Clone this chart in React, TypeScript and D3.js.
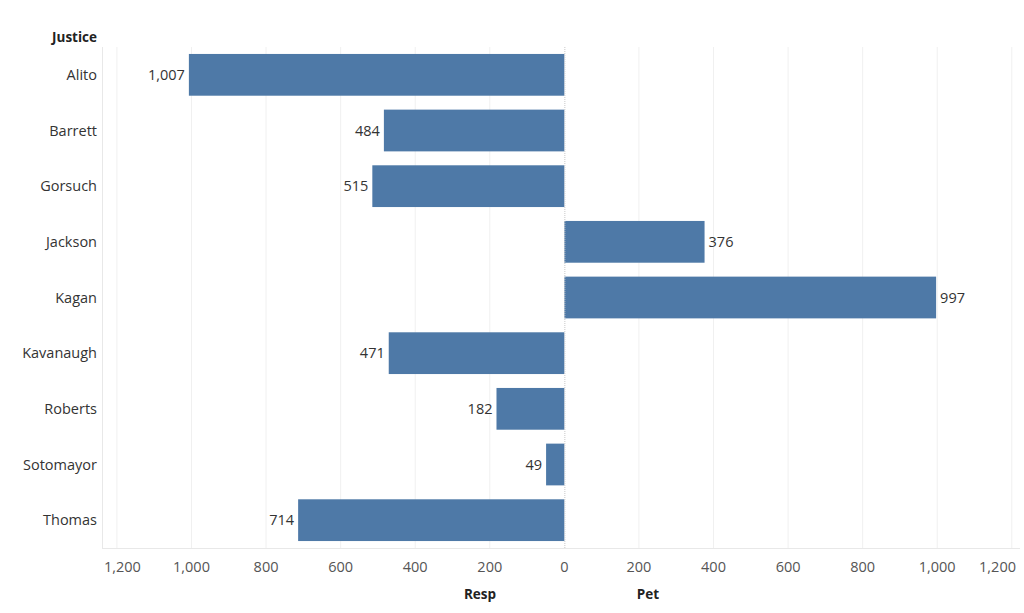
import React, { useEffect, useRef } from 'react';
import * as d3 from 'd3';

const justices = ['Alito', 'Barrett', 'Gorsuch', 'Jackson', 'Kagan', 'Kavanaugh', 'Roberts', 'Sotomayor', 'Thomas'];
const counts = [1007, 484, 515, 376, 997, 471, 182, 49, 714];
const sides = ['Resp', 'Resp', 'Resp', 'Pet', 'Pet', 'Resp', 'Resp', 'Resp', 'Resp'];
const tickValues = [-1200, -1000, -800, -600, -400, -200, 0, 200, 400, 600, 800, 1000, 1200];

const W = 1024;
const H = 613;
const FONT = '"Open Sans", "Noto Sans", sans-serif';

export default function App() {
  const svgRef = useRef<SVGSVGElement>(null);

  useEffect(() => {
    document.body.style.margin = '0';
    const svg = d3.select(svgRef.current);
    svg.selectAll('*').remove();

    const left = 102, right = 1020, top = 47, bottom = 548;

    const x = d3.scaleLinear().domain([-1240, 1222]).range([left, right]);
    const y = d3.scaleBand<string>().domain(justices).range([top, bottom]).paddingInner(0.25).paddingOuter(0.125);

    const signed = counts.map((c, i) => (sides[i] === 'Resp' ? -c : c));

    // Grid
    svg.append('g')
      .selectAll('line')
      .data(tickValues.filter(t => t !== 0))
      .enter().append('line')
      .attr('x1', d => x(d)).attr('x2', d => x(d))
      .attr('y1', top).attr('y2', bottom)
      .attr('stroke', '#f0f0f0').attr('stroke-width', 1);

    // Plot frame
    svg.append('line').attr('x1', left + 0.5).attr('x2', left + 0.5).attr('y1', top).attr('y2', bottom)
      .attr('stroke', '#e8e8e8');
    svg.append('line').attr('x1', left).attr('x2', right).attr('y1', bottom + 0.5).attr('y2', bottom + 0.5)
      .attr('stroke', '#e8e8e8');

    // Bars
    svg.append('g')
      .selectAll('rect')
      .data(justices)
      .enter().append('rect')
      .attr('x', (d, i) => x(Math.min(0, signed[i])))
      .attr('width', (d, i) => Math.abs(x(signed[i]) - x(0)))
      .attr('y', d => y(d)!)
      .attr('height', y.bandwidth())
      .attr('fill', '#4e79a7');

    // Zero line
    svg.append('line').attr('x1', x(0) + 0.5).attr('x2', x(0) + 0.5).attr('y1', top).attr('y2', bottom)
      .attr('stroke', '#c8c8c8').attr('stroke-dasharray', '1,1');

    const fmt = d3.format(',');

    // Value labels
    svg.append('g')
      .selectAll('text')
      .data(justices)
      .enter().append('text')
      .attr('x', (d, i) => signed[i] < 0 ? x(signed[i]) - 4 : x(signed[i]) + 4)
      .attr('y', d => y(d)! + y.bandwidth() / 2)
      .attr('dy', '0.35em')
      .attr('text-anchor', (d, i) => signed[i] < 0 ? 'end' : 'start')
      .attr('font-family', FONT).attr('font-size', 14.5).attr('fill', '#333')
      .text((d, i) => fmt(counts[i]));

    // Row labels
    svg.append('g')
      .selectAll('text')
      .data(justices)
      .enter().append('text')
      .attr('x', 97)
      .attr('y', d => y(d)! + y.bandwidth() / 2)
      .attr('dy', '0.35em')
      .attr('text-anchor', 'end')
      .attr('font-family', FONT).attr('font-size', 14.5).attr('fill', '#333')
      .text(d => d);

    svg.append('text').attr('x', 97).attr('y', 42).attr('text-anchor', 'end')
      .attr('font-family', FONT).attr('font-size', 13.5).attr('font-weight', 'bold').attr('fill', '#222')
      .text('Justice');

    // Tick labels, kept inside the plot width
    const ticks = svg.append('g')
      .selectAll('text')
      .data(tickValues)
      .enter().append('text')
      .attr('y', 572)
      .attr('text-anchor', 'middle')
      .attr('font-family', FONT).attr('font-size', 14.5).attr('fill', '#555')
      .text(d => fmt(Math.abs(d)));
    ticks.each(function (d) {
      const el = this as SVGTextElement;
      const w = el.getComputedTextLength();
      const cx = Math.max(left + 2 + w / 2, Math.min(right - 4 - w / 2, x(d)));
      el.setAttribute('x', String(cx));
    });

    // Axis titles
    svg.append('text').attr('x', 480).attr('y', 599).attr('text-anchor', 'middle')
      .attr('font-family', FONT).attr('font-size', 13.5).attr('font-weight', 'bold').attr('fill', '#222')
      .text('Resp');
    svg.append('text').attr('x', 648).attr('y', 599).attr('text-anchor', 'middle')
      .attr('font-family', FONT).attr('font-size', 13.5).attr('font-weight', 'bold').attr('fill', '#222')
      .text('Pet');
  }, []);

  return <svg ref={svgRef} width={W} height={H} style={{ display: 'block', background: '#fff' }} />;
}
